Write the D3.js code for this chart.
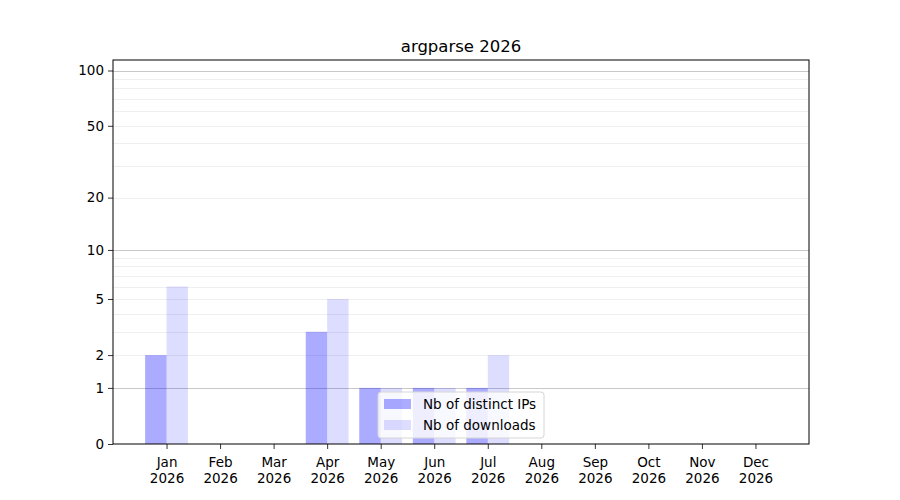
<!DOCTYPE html>
<html>
<head>
<meta charset="utf-8">
<script src="https://cdn.jsdelivr.net/npm/d3@7"></script>
<style>
  body { margin: 0; background: #fff; }
  svg text { font-family: "DejaVu Sans", sans-serif; fill: #000; }
</style>
</head>
<body>
<div id="chart"></div>
<script>
// ── Data ────────────────────────────────────────────────────────────────
const months = ["Jan", "Feb", "Mar", "Apr", "May", "Jun", "Jul", "Aug", "Sep", "Oct", "Nov", "Dec"];
const year = "2026";
const distinctIPs = [2, 0, 0, 3, 1, 1, 1, 0, 0, 0, 0, 0];
const downloads   = [6, 0, 0, 5, 1, 1, 2, 0, 0, 0, 0, 0];
const yTicks = [0, 1, 2, 5, 10, 20, 50, 100];
const majorGrid = [1, 10, 100];
const minorGrid = [3, 4, 6, 7, 8, 9, 20, 30, 40, 60, 70, 80, 90, 2, 5, 50];

(function () {
    const W = 900, H = 500;
    const m = { left: 113, right: 91, top: 60, bottom: 56 };
    const iw = W - m.left - m.right, ih = H - m.top - m.bottom;

    const svg = d3.select("#chart").append("svg")
        .attr("width", W).attr("height", H);

    const x = d3.scaleLinear().domain([-1, 12]).range([0, iw]);
    // log(1 + v) scale
    const y = d3.scaleSymlog().constant(1).domain([0, 114]).range([ih, 0]);
    const step = x(1) - x(0), bw = step * 0.4;

    const g = svg.append("g").attr("transform", `translate(${m.left},${m.top})`);

    // ── Grid ──────────────────────────────────────────────────────────────
    g.selectAll(".minor").data(minorGrid).join("line")
        .attr("x1", 0).attr("x2", iw)
        .attr("y1", d => Math.round(y(d)) + 0.5).attr("y2", d => Math.round(y(d)) + 0.5)
        .attr("stroke", "#ebebeb").attr("stroke-width", 0.8);
    g.selectAll(".major").data(majorGrid).join("line")
        .attr("x1", 0).attr("x2", iw)
        .attr("y1", d => Math.round(y(d)) + 0.5).attr("y2", d => Math.round(y(d)) + 0.5)
        .attr("stroke", "#c8c8c8").attr("stroke-width", 1);

    // ── Bars ──────────────────────────────────────────────────────────────
    g.selectAll(".ip").data(distinctIPs).join("rect")
        .attr("x", (d, i) => x(i) - bw).attr("width", bw)
        .attr("y", d => y(d)).attr("height", d => ih - y(d))
        .attr("fill", "blue").attr("fill-opacity", 0.33);
    g.selectAll(".dl").data(downloads).join("rect")
        .attr("x", (d, i) => x(i)).attr("width", bw)
        .attr("y", d => y(d)).attr("height", d => ih - y(d))
        .attr("fill", "blue").attr("fill-opacity", 0.135);

    // ── Axes ──────────────────────────────────────────────────────────────
    const yAxis = g.append("g")
        .call(d3.axisLeft(y).tickValues(yTicks).tickFormat(d3.format("d")).tickSize(5).tickPadding(4));
    yAxis.select(".domain").remove();
    yAxis.selectAll("line").attr("stroke-width", 0.8);
    yAxis.selectAll("text").style("font-size", "13.5px").style("font-family", "DejaVu Sans");

    const xAxis = g.append("g").attr("transform", `translate(0,${ih})`)
        .call(d3.axisBottom(x).tickValues(d3.range(months.length)).tickFormat("").tickSize(5));
    xAxis.select(".domain").remove();
    xAxis.selectAll("line").attr("stroke-width", 0.8);
    xAxis.selectAll(".tick").append("text")
        .attr("text-anchor", "middle").attr("y", 23)
        .style("font-size", "13.5px")
        .each(function (d) {
            const t = d3.select(this);
            t.append("tspan").attr("x", 0).text(months[d]);
            t.append("tspan").attr("x", 0).attr("dy", 16).text(year);
        });

    g.append("rect").attr("x", 0).attr("y", 0).attr("width", iw).attr("height", ih)
        .attr("fill", "none").attr("stroke", "#000").attr("stroke-width", 1);

    // ── Title ─────────────────────────────────────────────────────────────
    svg.append("text").attr("x", m.left + iw / 2).attr("y", 52)
        .attr("text-anchor", "middle").style("font-size", "16.5px")
        .text(`argparse ${year}`);

    // ── Legend ────────────────────────────────────────────────────────────
    const lg = svg.append("g").attr("transform", "translate(378,392)");
    lg.append("rect").attr("width", 166).attr("height", 46).attr("rx", 3)
        .attr("fill", "#fff").attr("fill-opacity", 0.8)
        .attr("stroke", "#d6d6d6").attr("stroke-width", 1);
    const items = [
        { label: "Nb of distinct IPs", op: 0.33 },
        { label: "Nb of downloads", op: 0.135 }
    ];
    items.forEach((it, i) => {
        const row = lg.append("g").attr("transform", `translate(6,${7 + i * 21})`);
        row.append("rect").attr("width", 27).attr("height", 10)
            .attr("fill", "blue").attr("fill-opacity", it.op);
        row.append("text").attr("x", 39).attr("y", 10).style("font-size", "13.5px").text(it.label);
    });
})();
</script>
</body>
</html>
